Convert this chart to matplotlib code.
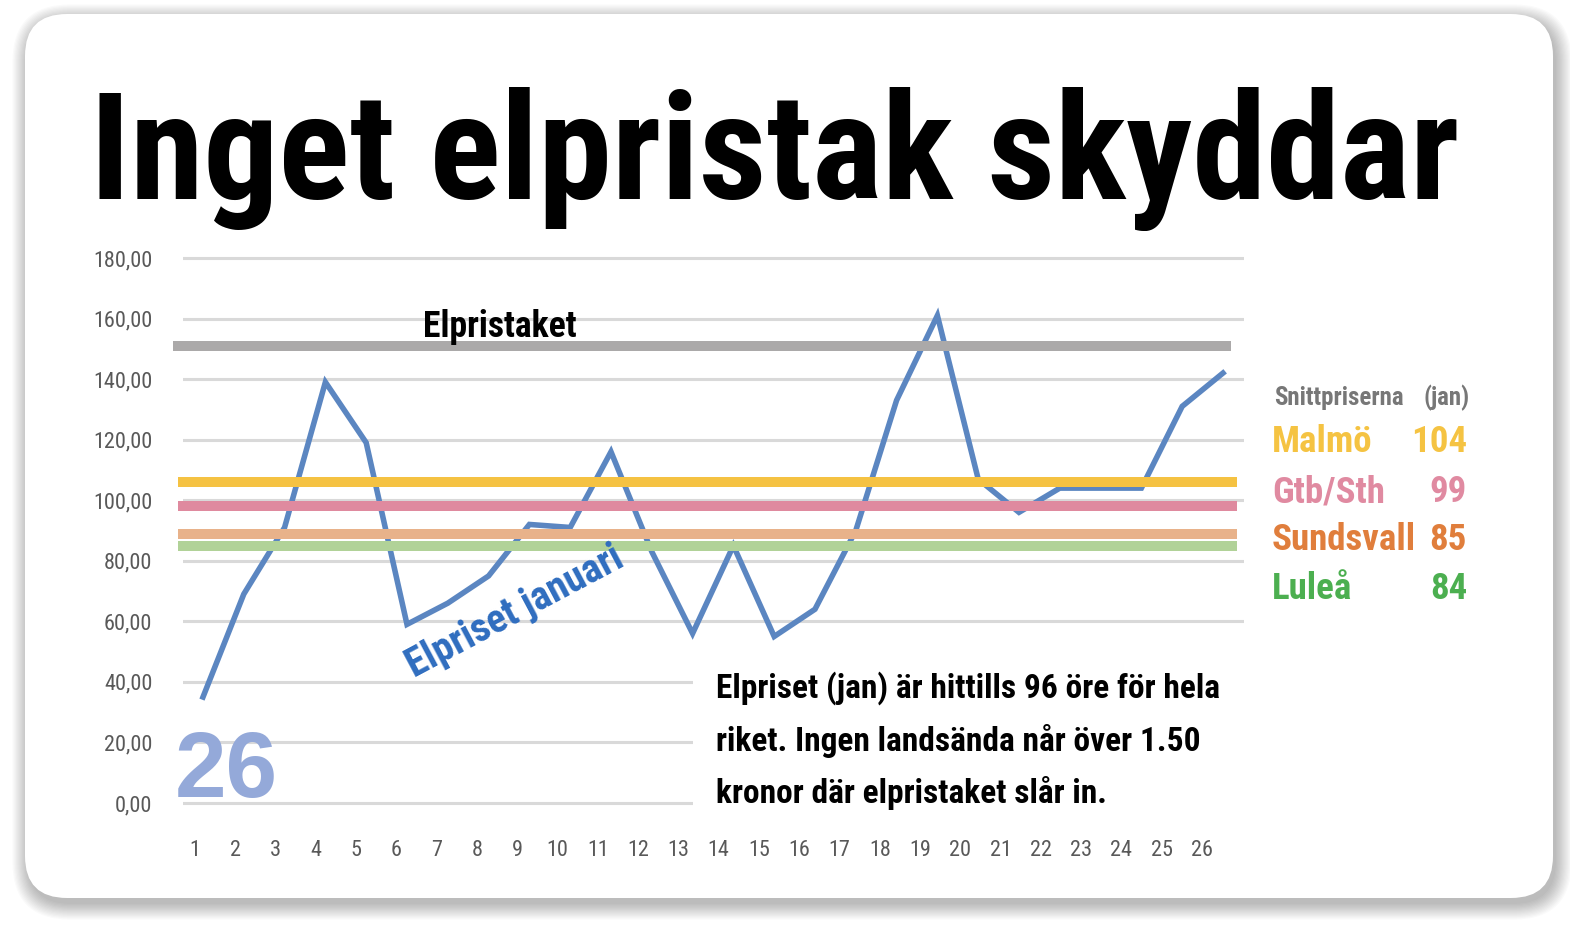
import matplotlib
matplotlib.use("Agg")
import matplotlib.pyplot as plt
from matplotlib import font_manager as fm
from matplotlib.patches import FancyBboxPatch, Rectangle
from matplotlib.transforms import IdentityTransform

# ---------------- data ----------------
days = list(range(1, 27))
prices_jan = [35, 69, 91, 139, 119, 59, 66, 75, 92, 91, 116, 83, 56,
              85, 55, 64, 90, 133, 161, 107, 96, 104, 104, 104, 131, 142]
price_cap = 151
regions = ["Malmö", "Gtb/Sth", "Sundsvall", "Luleå"]
region_avg_labels = ["104", "99", "85", "84"]
region_levels = [106, 98, 89, 85]
y_ticks = [0, 20, 40, 60, 80, 100, 120, 140, 160, 180]
y_tick_labels = ["0,00", "20,00", "40,00", "60,00", "80,00", "100,00",
                 "120,00", "140,00", "160,00", "180,00"]
x_tick_labels = [str(d) for d in days]
title_text = "Inget elpristak skyddar"
cap_label = "Elpristaket"
series_label = "Elpriset januari"
legend_header = "Snittpriserna"
legend_header_right = "(jan)"
note_lines = ["Elpriset (jan) är hittills 96 öre för hela",
              "riket. Ingen landsända når över 1.50",
              "kronor där elpristaket slår in."]
day_count_label = "26"

# ---------------- styles ----------------
region_text_colors = ["#f5c342", "#e08aa1", "#e07e3c", "#4caf50"]
region_line_colors = ["#f5c242", "#df8a9f", "#e8b28a", "#b1d298"]
cap_color = "#aba9a9"
line_color = "#5b86c1"

W, H = 1570, 930


def _w(e):
    w = e.weight
    if isinstance(w, str):
        w = fm.weight_dict.get(w, 400)
    return w


def pick(target):
    prefs = [("Roboto Condensed", None), ("Open Sans Condensed", None),
             ("Liberation Sans Narrow", None),
             ("DejaVu Sans Condensed", None), ("DejaVu Sans", "condensed")]
    for name, stretch in prefs:
        c = [e for e in fm.fontManager.ttflist
             if e.name == name and e.style == "normal"
             and (stretch is None or e.stretch == stretch)]
        if c:
            best = min(c, key=lambda e: (abs(_w(e) - target), -_w(e)))
            return fm.FontProperties(fname=best.fname)
    return fm.FontProperties(family="DejaVu Sans",
                             weight="bold" if target >= 600 else "normal")


title_fp = pick(900)
bold_fp = pick(700)
reg_fp = pick(400)
arial_bold = fm.FontProperties(family=["Liberation Sans", "DejaVu Sans"], weight="bold")

fig = plt.figure(figsize=(W / 100, H / 100), dpi=100)
fig.patch.set_facecolor("#ffffff")
ID = IdentityTransform()


def py(y):
    return H - y


# shadow + card
for k in range(14):
    sh = FancyBboxPatch((25 + 3 - k * 1.2, py(898) - 6 - k * 1.2), 1528 + 2.4 * k, 884 + 2.4 * k,
                        boxstyle="round,pad=0,rounding_size=%f" % (42 + k * 1.2),
                        transform=ID, fc="black", ec="none", alpha=0.02, zorder=0)
    fig.add_artist(sh)
card = FancyBboxPatch((25, py(898)), 1528, 884, boxstyle="round,pad=0,rounding_size=42",
                      transform=ID, fc="white", ec="none", zorder=0.5)
fig.add_artist(card)

# ---------------- axes ----------------
ppu = 545 / 180.0
y0, y1 = -2, 181
ax_bot = 803 + 2 * ppu
ax_top = 258 - 1 * ppu
ax = fig.add_axes([183 / W, (H - ax_bot) / H, (1244 - 183) / W, (ax_bot - ax_top) / H])
ax.set_facecolor("none")
ax.set_zorder(2)
ax.set_ylim(y0, y1)
ax.set_xlim(0.51, 26.515)
for s in ax.spines.values():
    s.set_visible(False)
ax.set_yticks(y_ticks)
ax.set_yticklabels(y_tick_labels)
for lbl in ax.get_yticklabels():
    lbl.set_fontproperties(reg_fp)
    lbl.set_fontsize(16)
    lbl.set_color("#595959")
ax.tick_params(axis="y", length=0, pad=22)
ax.set_xticks([])
ax.grid(axis="y", color="#d9d9d9", lw=2.2)
ax.set_axisbelow(True)

# white area under the note text hides the lower grid lines
ax.add_patch(Rectangle((13.0, y0), 14, 52 - y0, fc="white", ec="none", zorder=1))

ax.plot(days, prices_jan, color=line_color, lw=4, zorder=2, solid_joinstyle="miter")

ax.axhline(price_cap, xmin=-0.0094, xmax=0.9877, color=cap_color, lw=7.2,
           solid_capstyle="butt", clip_on=False, zorder=3)
for lvl, col in zip(region_levels[::-1], region_line_colors[::-1]):
    ax.axhline(lvl, xmin=-0.0047, xmax=0.9934, color=col, lw=7.2,
               solid_capstyle="butt", clip_on=False, zorder=3)

# x tick labels axis
ax2 = fig.add_axes(ax.get_position(), frameon=False)
ax2.set_zorder(1)
ax2.patch.set_visible(False)
ax2.set_xlim(0.702, 27.043)
ax2.set_ylim(0, 1)
ax2.set_yticks([])
ax2.set_xticks(days)
ax2.set_xticklabels(x_tick_labels)
for lbl in ax2.get_xticklabels():
    lbl.set_fontproperties(reg_fp)
    lbl.set_fontsize(16)
    lbl.set_color("#595959")
ax2.tick_params(axis="x", length=0, pad=22)

# ---------------- texts ----------------
renderer = fig.canvas.get_renderer()


def fit(t, target_w):
    bb = t.get_window_extent(renderer)
    t.set_fontsize(t.get_fontsize() * target_w / bb.width)


title = fig.text(775, py(210), title_text, transform=ID, ha="center", va="baseline",
                 fontproperties=title_fp, fontsize=100, color="black", zorder=5)
fit(title, 1370)
fs_px = title.get_fontsize() * 100 / 72
title.set_y(py(145 + 0.36 * fs_px))

t = fig.text(423, py(337), cap_label, transform=ID, ha="left", va="baseline",
             fontproperties=bold_fp, fontsize=30, color="black", zorder=5)
fit(t, 154)

t = fig.text(414, py(678), series_label, transform=ID, ha="left", va="baseline",
             fontproperties=bold_fp, fontsize=30, color="#2f6dbf", zorder=5,
             rotation_mode="anchor")
fit(t, 240)
t.set_rotation(28)

t = fig.text(175, py(797), day_count_label, transform=ID, ha="left", va="baseline",
             fontproperties=arial_bold, fontsize=70, color="#94a9d9", zorder=5)
fit(t, 103)

n0 = fig.text(716, py(698), note_lines[0], transform=ID, ha="left", va="baseline",
              fontproperties=bold_fp, fontsize=30, color="black", zorder=5)
fit(n0, 503)
for i, line in enumerate(note_lines[1:], start=1):
    fig.text(716, py(698 + 52.5 * i), line, transform=ID, ha="left", va="baseline",
             fontproperties=bold_fp, fontsize=n0.get_fontsize(), color="black", zorder=5)

h = fig.text(1274, py(405), legend_header, transform=ID, ha="left", va="baseline",
             fontproperties=bold_fp, fontsize=20, color="#777777", zorder=5)
fit(h, 129)
fig.text(1470, py(405), legend_header_right, transform=ID, ha="right", va="baseline",
         fontproperties=bold_fp, fontsize=h.get_fontsize(), color="#777777", zorder=5)

probe = fig.text(1272, py(550), regions[2], transform=ID, ha="left", va="baseline",
                 fontproperties=bold_fp, fontsize=30, color=region_text_colors[2], zorder=5)
fit(probe, 144)
rfs = probe.get_fontsize()
probe.remove()
baselines = [452, 502, 550, 599]
for name, val, col, b in zip(regions, region_avg_labels, region_text_colors, baselines):
    fig.text(1272, py(b), name, transform=ID, ha="left", va="baseline",
             fontproperties=bold_fp, fontsize=rfs, color=col, zorder=5)
    fig.text(1467, py(b), val, transform=ID, ha="right", va="baseline",
             fontproperties=bold_fp, fontsize=rfs, color=col, zorder=5)

fig.savefig("out.png", dpi=100, facecolor=fig.get_facecolor())
